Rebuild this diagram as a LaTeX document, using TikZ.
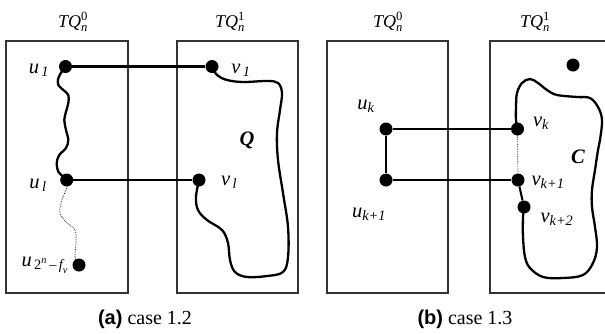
\documentclass[tikz,border=0pt]{standalone}
\usepackage{amsmath}
\usepackage{fontspec}
\setmainfont{Liberation Serif}
\newfontfamily\capsans{Liberation Sans}
\usetikzlibrary{backgrounds}
\begin{document}
\begin{tikzpicture}[x=1pt,y=-1pt,
  dotnode/.style={circle,fill=black,inner sep=0pt,minimum size=13pt},
  panel/.style={draw=black!80,line width=1.3pt},
  edge/.style={line width=2.1pt},
  curve/.style={line width=2.3pt,line join=round},
  dotline/.style={densely dotted,line width=0.7pt},
  tqlab/.style={font=\fontsize{18}{21}\selectfont,inner sep=0pt},
  lab/.style={font=\fontsize{20.5}{24}\selectfont,inner sep=0pt},
  captext/.style={font=\fontsize{20}{24}\selectfont,inner sep=0pt}]
\useasboundingbox (0,0) rectangle (605,333);
\clip (0,0) rectangle (605,333);
% panels
\draw[panel] (6,41) rectangle (128,293);
\draw[panel] (177,41) rectangle (298,293);
\draw[panel] (327,41) rectangle (448,293);
\draw[panel] (490,41) rectangle (620,293);
% dots (a)
\node[dotnode] (u1) at (65.5,66.5) {};
\node[dotnode] (v1) at (212,66.5) {};
\node[dotnode] (ul) at (66.7,180) {};
\node[dotnode] (vl) at (199,180) {};
\node[dotnode] (uf) at (79,265) {};
% dots (b)
\node[dotnode] (uk) at (386,129) {};
\node[dotnode] (uk1) at (386,180) {};
\node[dotnode] (vk) at (517.5,129) {};
\node[dotnode] (vk1) at (518,180) {};
\node[dotnode] (vk2) at (524,207) {};
\node[dotnode] (vx) at (573,65) {};
% straight connectors
\draw[edge] (u1) -- (v1);
\draw[edge] (ul) -- (vl);
\draw[edge] (uk) -- (vk);
\draw[edge] (uk1) -- (vk1);
\draw[edge] (uk) -- (uk1);
\draw[edge] (vk1) -- (vk2);
\draw[dotline] (vk) -- (vk1);
\begin{scope}[on background layer]
\draw[curve] plot[smooth,tension=0.6] coordinates {(u1.center) (61.7,71.7) (58.3,78.3) (58.3,85) (63.3,90) (68.3,95) (68.3,103) (66,111.7) (64.3,120) (66,130) (68.3,140) (66,148) (59.3,155) (56.7,163) (58.3,171.7) (63.3,176.7) (ul.center)};
\draw[dotline] plot[smooth,tension=0.6] coordinates {(ul.center) (67,187) (62,200) (60,213) (67,223) (75,230) (76,243) (75,257) (uf.center)};
\draw[curve] plot[smooth,tension=0.6] coordinates {(v1.center) (217,75) (227,80) (243,82) (267,81) (278,83) (282,93) (280,110) (277,133) (278,160) (283,193) (288,227) (288,257) (283,272) (267,276) (247,277) (235,272) (230,260) (228,243) (222,230) (207,220) (198,210) (196,197) (vl.center)};
\draw[curve] plot[smooth,tension=0.6] coordinates {(vk.center) (516,120) (516,107) (517,93) (522,83) (530,79) (538,83) (547,90) (557,95) (577,97) (590,98) (598,107) (602,120) (600,140) (598,150) (595,170) (592,190) (592,207) (595,227) (597,247) (593,263) (583,275) (563,278) (543,277) (530,268) (525,257) (523,237) (523,217) (vk2.center)};
\end{scope}
% labels (a)
\node[tqlab] (tqa0) at (73,22) {$\textit{TQ}_{\textit{n}}^{\text{0}}$};
\node[tqlab] (tqa1) at (230,22) {$\textit{TQ}_{\textit{n}}^{\text{1}}$};
\node[lab] (lu1) at (39,70) {$\textit{u}_{\,\textit{1}}$};
\node[lab] (lul) at (38,185) {$\textit{u}_{\,\textit{l}}$};
\node[lab] (lv1) at (241,70) {$\textit{v}_{\,\textit{1}}$};
\node[lab] (lvl) at (229,182) {$\textit{v}_{\,\textit{l}}$};
\node[lab] (lq) at (247,140) {\textbf{\textit{Q}}};
\node[lab] (luf) at (45,265) {$\textit{u}_{\,\text{2}^{\textit{n}}\text{\,–\,}\textit{f}_{\textit{v}}}$};
% labels (b)
\node[tqlab] (tqb0) at (388,22) {$\textit{TQ}_{\textit{n}}^{\text{0}}$};
\node[tqlab] (tqb1) at (535,22) {$\textit{TQ}_{\textit{n}}^{\text{1}}$};
\node[lab] (luk) at (366,106) {$\textit{u}_{\textit{k}}$};
\node[lab] (luk1) at (369,214) {$\textit{u}_{\textit{k+1}}$};
\node[lab] (lvk) at (541,123) {$\textit{v}_{\textit{k}}$};
\node[lab] (lvk1) at (548,182) {$\textit{v}_{\textit{k+1}}$};
\node[lab] (lvk2) at (557,219) {$\textit{v}_{\textit{k+2}}$};
\node[lab] (lc) at (578,157) {\textbf{\textit{C}}};
% captions
\node[captext] (capa) at (145,319) {{\capsans\bfseries (a)} case 1.2};
\node[captext] (capb) at (465,319) {{\capsans\bfseries (b)} case 1.3};
\end{tikzpicture}
\end{document}
